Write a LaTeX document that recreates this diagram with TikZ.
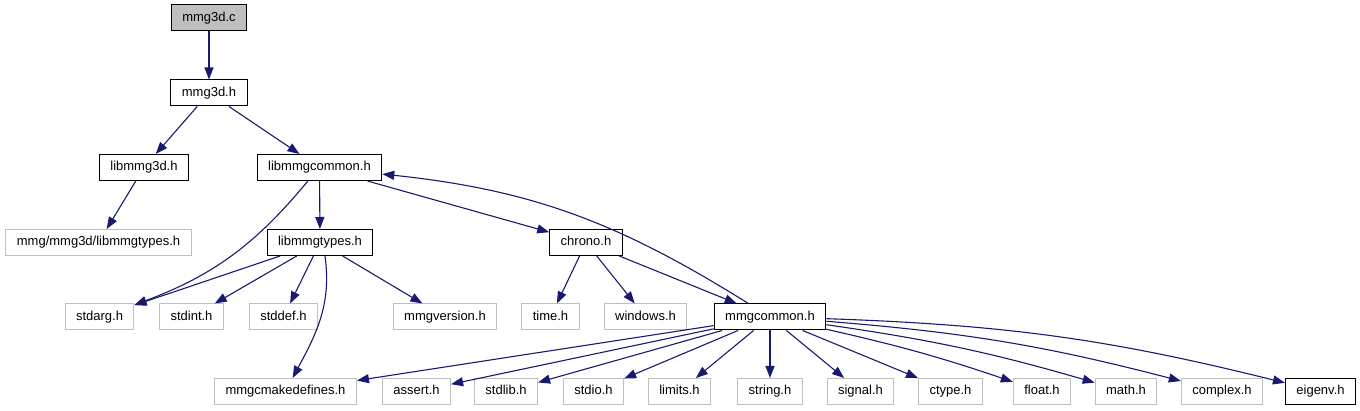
\documentclass[tikz,border=0pt]{standalone}
\usepackage{fontspec}
\setmainfont{Liberation Sans}
\usetikzlibrary{arrows.meta}
\definecolor{boxgray}{HTML}{BFBFBF}
\definecolor{linkblue}{HTML}{191970}
\begin{document}
\begin{tikzpicture}[x=1pt, y=1pt, every node/.style={draw=black, rectangle, line width=1pt, minimum height=26pt, inner xsep=11pt, text height=9.5pt, text depth=2.8pt, font=\fontsize{13}{15}\selectfont}, ext/.style={draw=boxgray}, link/.style={draw=linkblue, line width=1.1pt, -{Triangle[length=12pt, width=9pt]}}]
			\useasboundingbox (0,0) rectangle (1360,411);
			\node[fill=boxgray] (mmgc) at (209,393) {mmg3d.c};
			\node (mmgh) at (209,318) {mmg3d.h};
			\node (libh) at (144,243.5) {libmmg3d.h};
			\node (lcom) at (319.5,243.5) {libmmgcommon.h};
			\node[ext] (mtyp) at (98.5,168.5) {mmg/mmg3d/libmmgtypes.h};
			\node (ltyp) at (320,168.5) {libmmgtypes.h};
			\node (chro) at (586,168.5) {chrono.h};
			\node[ext] (sarg) at (99.5,94) {stdarg.h};
			\node[ext] (sint) at (191.5,94) {stdint.h};
			\node[ext] (sdef) at (283.5,94) {stddef.h};
			\node[ext] (mver) at (445,94) {mmgversion.h};
			\node[ext] (tim) at (550.5,94) {time.h};
			\node[ext] (wind) at (645.5,94) {windows.h};
			\node (mcom) at (770,94) {mmgcommon.h};
			\node[ext] (cmak) at (285.5,19.5) {mmgcmakedefines.h};
			\node[ext] (asrt) at (416.5,19.5) {assert.h};
			\node[ext] (slib) at (506,19.5) {stdlib.h};
			\node[ext] (sio) at (593.5,19.5) {stdio.h};
			\node[ext] (lim) at (679.5,19.5) {limits.h};
			\node[ext] (str) at (770,19.5) {string.h};
			\node[ext] (sig) at (860.5,19.5) {signal.h};
			\node[ext] (ctyp) at (950.5,19.5) {ctype.h};
			\node[ext] (flt) at (1042,19.5) {float.h};
			\node[ext] (mth) at (1126,19.5) {math.h};
			\node[ext] (cplx) at (1222,19.5) {complex.h};
			\node (eig) at (1320.5,19.5) {eigenv.h};
			\draw[link] (mmgc)--(mmgh);
			\draw[link] (mmgh)--(libh);
			\draw[link] (mmgh)--(lcom);
			\draw[link] (libh)--(mtyp);
			\draw[link] (lcom) to[bend left=15] (sarg);
			\draw[link] (lcom)--(ltyp);
			\draw[link] (lcom)--(chro);
			\draw[link] (ltyp)--(sarg);
			\draw[link] (ltyp)--(sint);
			\draw[link] (ltyp)--(sdef);
			\draw[link] (ltyp.south) ++(5,0) to[out=-82, in=62] (cmak);
			\draw[link] (ltyp)--(mver);
			\draw[link] (chro)--(tim);
			\draw[link] (chro)--(wind);
			\draw[link] (chro)--(mcom);
			\draw[link] (mcom) to[out=148, in=-6] (lcom);
			\draw[link] (mcom)--(cmak);
			\draw[link] (mcom)--(asrt);
			\draw[link] (mcom)--(slib);
			\draw[link] (mcom)--(sio);
			\draw[link] (mcom)--(lim);
			\draw[link] (mcom)--(str);
			\draw[link] (mcom)--(sig);
			\draw[link] (mcom)--(ctyp);
			\draw[link] (mcom) to[bend left=3] (flt);
			\draw[link] (mcom) to[bend left=4] (mth);
			\draw[link] (mcom) to[bend left=5] (cplx);
			\draw[link] (mcom) to[bend left=6] (eig);
		\end{tikzpicture}
\end{document}
